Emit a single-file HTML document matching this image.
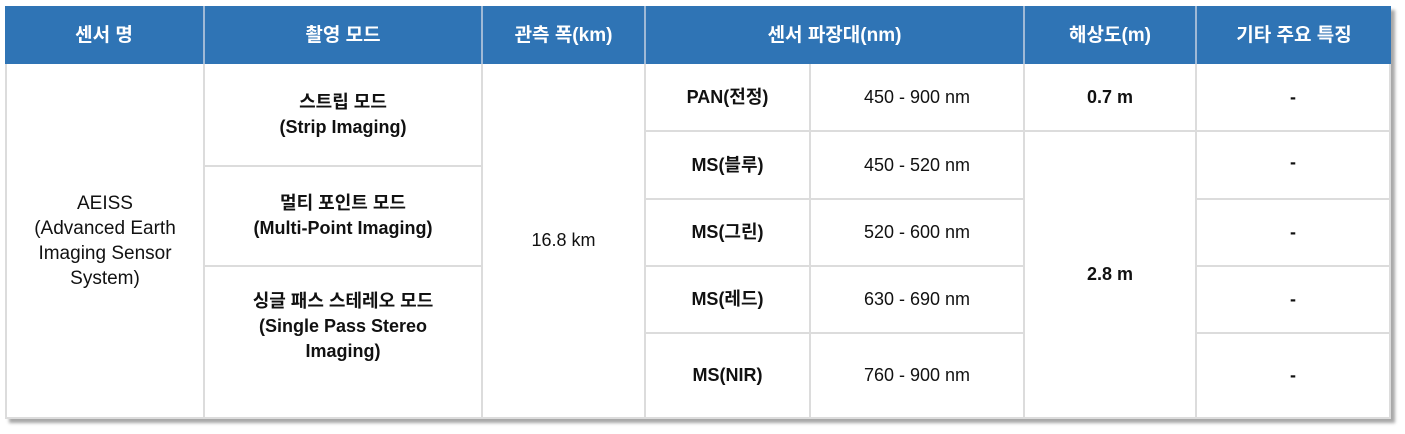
<!DOCTYPE html>
<html><head><meta charset="utf-8"><style>
body{margin:0;width:1405px;height:434px;background:#fff;position:relative;overflow:hidden;font-family:"Liberation Sans","Noto Sans CJK KR",sans-serif}
.c{position:absolute;box-sizing:border-box;display:flex;align-items:center;justify-content:center;text-align:center;color:#111;font-size:18px;line-height:25px;border-right:2px solid #dcdcdc;border-bottom:2px solid #dcdcdc}
.h{background:#2f74b5;color:#fff;font-weight:bold;font-size:19px;border-right:2px solid #9fb9d6;border-bottom:none}
.b{font-weight:bold}
#tbl{position:absolute;left:5px;top:6px;width:1386px;height:413px;box-shadow:4px 4px 3px #a8a8a8;background:#fff}
</style></head><body>
<div id="tbl"></div>
<div class="c h" style="left:5px;top:6px;width:200px;height:58px">센서 명</div>
<div class="c h" style="left:205px;top:6px;width:278px;height:58px">촬영 모드</div>
<div class="c h" style="left:483px;top:6px;width:163px;height:58px">관측 폭(km)</div>
<div class="c h" style="left:646px;top:6px;width:379px;height:58px">센서 파장대(nm)</div>
<div class="c h" style="left:1025px;top:6px;width:172px;height:58px">해상도(m)</div>
<div class="c h" style="left:1197px;top:6px;width:194px;height:58px;border-right:none">기타 주요 특징</div>

<div class="c" style="left:5px;top:64px;width:200px;height:355px;border-left:2px solid #dcdcdc;font-size:19px">AEISS<br>(Advanced Earth<br>Imaging Sensor<br>System)</div>

<div class="c b" style="left:205px;top:64px;width:278px;height:103px">스트립 모드<br>(Strip Imaging)</div>
<div class="c b" style="left:205px;top:167px;width:278px;height:100px">멀티 포인트 모드<br>(Multi-Point Imaging)</div>
<div class="c b" style="left:205px;top:267px;width:278px;height:152px;align-items:flex-start;padding-top:22px">싱글 패스 스테레오 모드<br>(Single Pass Stereo<br>Imaging)</div>

<div class="c" style="left:483px;top:64px;width:163px;height:355px">16.8 km</div>

<div class="c b" style="left:646px;top:64px;width:165px;height:68px">PAN(전정)</div>
<div class="c" style="left:811px;top:64px;width:214px;height:68px">450 - 900 nm</div>
<div class="c b" style="left:646px;top:132px;width:165px;height:68px">MS(블루)</div>
<div class="c" style="left:811px;top:132px;width:214px;height:68px">450 - 520 nm</div>
<div class="c b" style="left:646px;top:200px;width:165px;height:67px">MS(그린)</div>
<div class="c" style="left:811px;top:200px;width:214px;height:67px">520 - 600 nm</div>
<div class="c b" style="left:646px;top:267px;width:165px;height:67px">MS(레드)</div>
<div class="c" style="left:811px;top:267px;width:214px;height:67px">630 - 690 nm</div>
<div class="c b" style="left:646px;top:334px;width:165px;height:85px">MS(NIR)</div>
<div class="c" style="left:811px;top:334px;width:214px;height:85px">760 - 900 nm</div>

<div class="c b" style="left:1025px;top:64px;width:172px;height:68px">0.7 m</div>
<div class="c b" style="left:1025px;top:132px;width:172px;height:287px">2.8 m</div>

<div class="c b" style="left:1197px;top:64px;width:194px;height:68px">-</div>
<div class="c b" style="left:1197px;top:132px;width:194px;height:68px;align-items:flex-start;padding-top:18px">-</div>
<div class="c b" style="left:1197px;top:200px;width:194px;height:67px">-</div>
<div class="c b" style="left:1197px;top:267px;width:194px;height:67px">-</div>
<div class="c b" style="left:1197px;top:334px;width:194px;height:85px">-</div>
</body></html>
